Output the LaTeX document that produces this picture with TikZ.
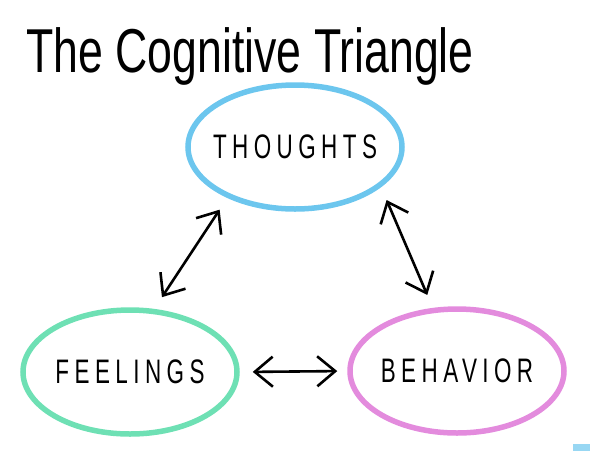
\documentclass[tikz,border=0pt]{standalone}
\usepackage{fontspec}
\setmainfont{Liberation Sans}
\newfontfamily\handfont[FakeStretch=0.72]{Liberation Sans}
\newfontfamily\capsfont[FakeStretch=0.66,LetterSpace=16]{Liberation Sans}
\usetikzlibrary{shapes.geometric,positioning,arrows.meta}

\definecolor{thoughtblue}{RGB}{108,198,238}
\definecolor{feelgreen}{RGB}{110,224,180}
\definecolor{actpink}{RGB}{227,139,221}

\begin{document}
\begin{tikzpicture}[
				x = 1pt, y = -1pt, % pixel grid, y runs down
				> = {Straight Barb[length=18pt,width=30pt]}, % open arrow head
				shorten > = 14pt, % keep heads off the rings
				shorten < = 14pt,
				line width = 2.6pt,
				font=\capsfont\fontsize{34}{34}\selectfont
				]
				
				\tikzstyle{ring}=[
				ellipse,
				line width = 5.5pt,
				minimum width = 214pt,
				minimum height = 124pt,
				inner sep = 0pt
				]
				
				\useasboundingbox (0,0) rectangle (597,451);
				
				\node[font=\handfont\fontsize{62}{62}\selectfont, anchor=base] (title) at (250,72) {The Cognitive Triangle};
				
				\node[ring, draw=thoughtblue] (thoughts) at (295,147) {\makebox[0pt]{THOUGHTS}};
				\node[ring, draw=feelgreen] (feelings) [on grid, below left=225pt and 165pt of thoughts] {\makebox[0pt]{FEELINGS}};
				\node[ring, draw=actpink] (behavior) [on grid, below right=224pt and 162pt of thoughts] {\makebox[0pt]{BEHAVIOR}};
				
				\path[<->] 	
				(thoughts.-143) edge (feelings.69)
				(thoughts.-25) edge (behavior.111)
				(feelings.east) edge [shorten <=13pt, shorten >=10pt] (behavior.west)
				;
				
				\fill[thoughtblue!70] (573,444) rectangle (590,451);
			\end{tikzpicture}
\end{document}
